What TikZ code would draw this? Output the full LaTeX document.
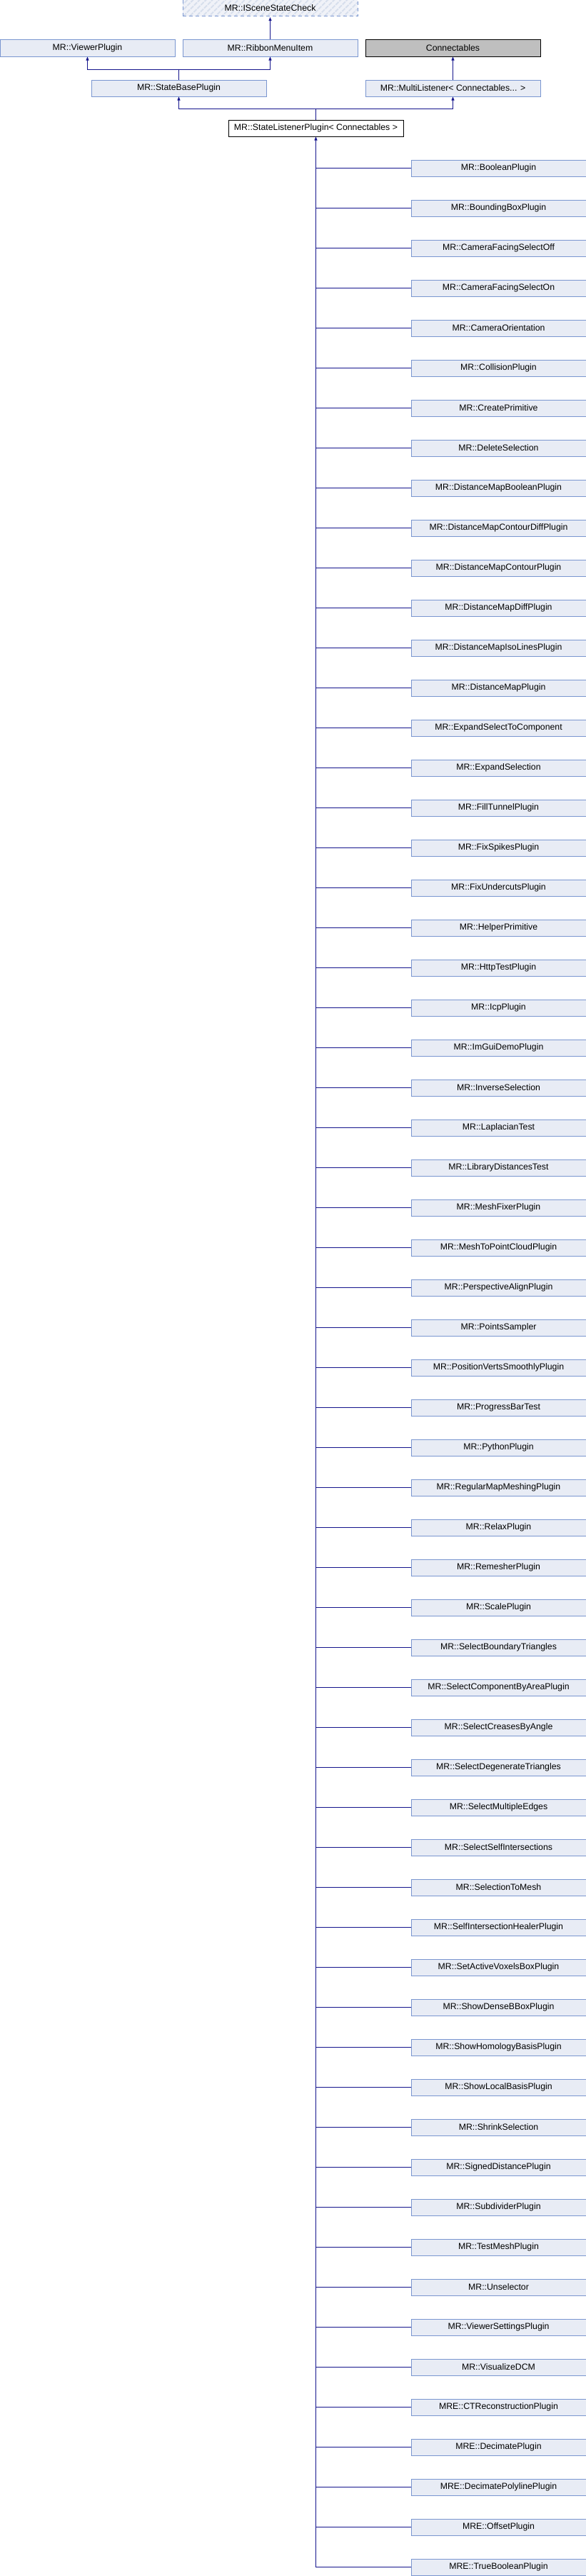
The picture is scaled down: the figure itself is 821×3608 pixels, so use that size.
\documentclass[tikz,border=0pt]{standalone}
\usepackage{fontspec}
\setmainfont{Liberation Sans}
\usepackage{xcolor}
\usepackage{tikz}
\usetikzlibrary{arrows.meta,patterns.meta}

\definecolor{boxfill}{RGB}{232,236,245}
\definecolor{boxline}{RGB}{122,150,208}
\definecolor{hatchbg}{RGB}{240,242,248}
\definecolor{hatchln}{RGB}{214,222,236}
\definecolor{edgeblue}{RGB}{20,20,140}

\tikzset{
	cls/.style={draw=boxline,fill=boxfill,line width=1pt,minimum width=245pt,minimum height=23pt,inner sep=0pt,font=\fontsize{12.3}{14}\selectfont},
	hidden/.style={cls,dashed,dash pattern=on 5pt off 4pt,preaction={fill=hatchbg},pattern={Lines[angle=45,distance=6.4pt,line width=2.2pt]},pattern color=hatchln},
	extcls/.style={cls,draw=black,fill=black!25},
	curcls/.style={cls,draw=black,fill=white},
	inh/.style={draw=edgeblue,line width=1pt,{Triangle[width=4pt,length=5pt]}-},
	branch/.style={draw=edgeblue,line width=1pt}
}

\begin{document}
\begin{tikzpicture}[x=1pt,y=-1pt]
				\useasboundingbox (0,0) rectangle (821,3608);
				
				% top levels
				\node[hidden] (isc) at (378.5,11.5) {MR::ISceneStateCheck};
				\node[cls] (vwp) at (122.5,67.5) {MR::ViewerPlugin};
				\node[cls] (rmi) at (378.5,67.5) {MR::RibbonMenuItem};
				\node[extcls] (cnx) at (634.5,67.5) {Connectables};
				\node[cls] (sbp) at (250.5,123.5) {MR::StateBasePlugin};
				\node[cls] (mls) at (634.5,123.5) {MR::MultiListener< Connectables... >};
				\node[curcls] (slp) at (442.5,179.5) {MR::StateListenerPlugin< Connectables >};
				
				% inheritance above
				\draw[inh] (isc.south) -- (rmi.north);
				\coordinate (j1) at (250.5,97);
				\draw[inh] (vwp.south) |- (j1) -- (sbp.north);
				\draw[inh] (rmi.south) |- (j1);
				\draw[inh] (cnx.south) -- (mls.north);
				\coordinate (j2) at (442.5,152);
				\draw[inh] (sbp.south) |- (j2) -- (slp.north);
				\draw[inh] (mls.south) |- (j2);
				
				% derived classes
				\foreach \name [count=\i] in {MR::BooleanPlugin,MR::BoundingBoxPlugin,MR::CameraFacingSelectOff,MR::CameraFacingSelectOn,MR::CameraOrientation,MR::CollisionPlugin,MR::CreatePrimitive,MR::DeleteSelection,MR::DistanceMapBooleanPlugin,MR::DistanceMapContourDiffPlugin,MR::DistanceMapContourPlugin,MR::DistanceMapDiffPlugin,MR::DistanceMapIsoLinesPlugin,MR::DistanceMapPlugin,MR::ExpandSelectToComponent,MR::ExpandSelection,MR::FillTunnelPlugin,MR::FixSpikesPlugin,MR::FixUndercutsPlugin,MR::HelperPrimitive,MR::HttpTestPlugin,MR::IcpPlugin,MR::ImGuiDemoPlugin,MR::InverseSelection,MR::LaplacianTest,MR::LibraryDistancesTest,MR::MeshFixerPlugin,MR::MeshToPointCloudPlugin,MR::PerspectiveAlignPlugin,MR::PointsSampler,MR::PositionVertsSmoothlyPlugin,MR::ProgressBarTest,MR::PythonPlugin,MR::RegularMapMeshingPlugin,MR::RelaxPlugin,MR::RemesherPlugin,MR::ScalePlugin,MR::SelectBoundaryTriangles,MR::SelectComponentByAreaPlugin,MR::SelectCreasesByAngle,MR::SelectDegenerateTriangles,MR::SelectMultipleEdges,MR::SelectSelfIntersections,MR::SelectionToMesh,MR::SelfIntersectionHealerPlugin,MR::SetActiveVoxelsBoxPlugin,MR::ShowDenseBBoxPlugin,MR::ShowHomologyBasisPlugin,MR::ShowLocalBasisPlugin,MR::ShrinkSelection,MR::SignedDistancePlugin,MR::SubdividerPlugin,MR::TestMeshPlugin,MR::Unselector,MR::ViewerSettingsPlugin,MR::VisualizeDCM,MRE::CTReconstructionPlugin,MRE::DecimatePlugin,MRE::DecimatePolylinePlugin,MRE::OffsetPlugin,MRE::TrueBooleanPlugin} {
					\node[cls] (c\i) at (698.5,{235.5+56*(\i-1)}) {\name};
					\draw[branch] (c\i.west) -- (c\i.west -| slp.south);
				}
				\draw[inh] (slp.south) -- (slp.south |- c61.west);
				
			\end{tikzpicture}
\end{document}
